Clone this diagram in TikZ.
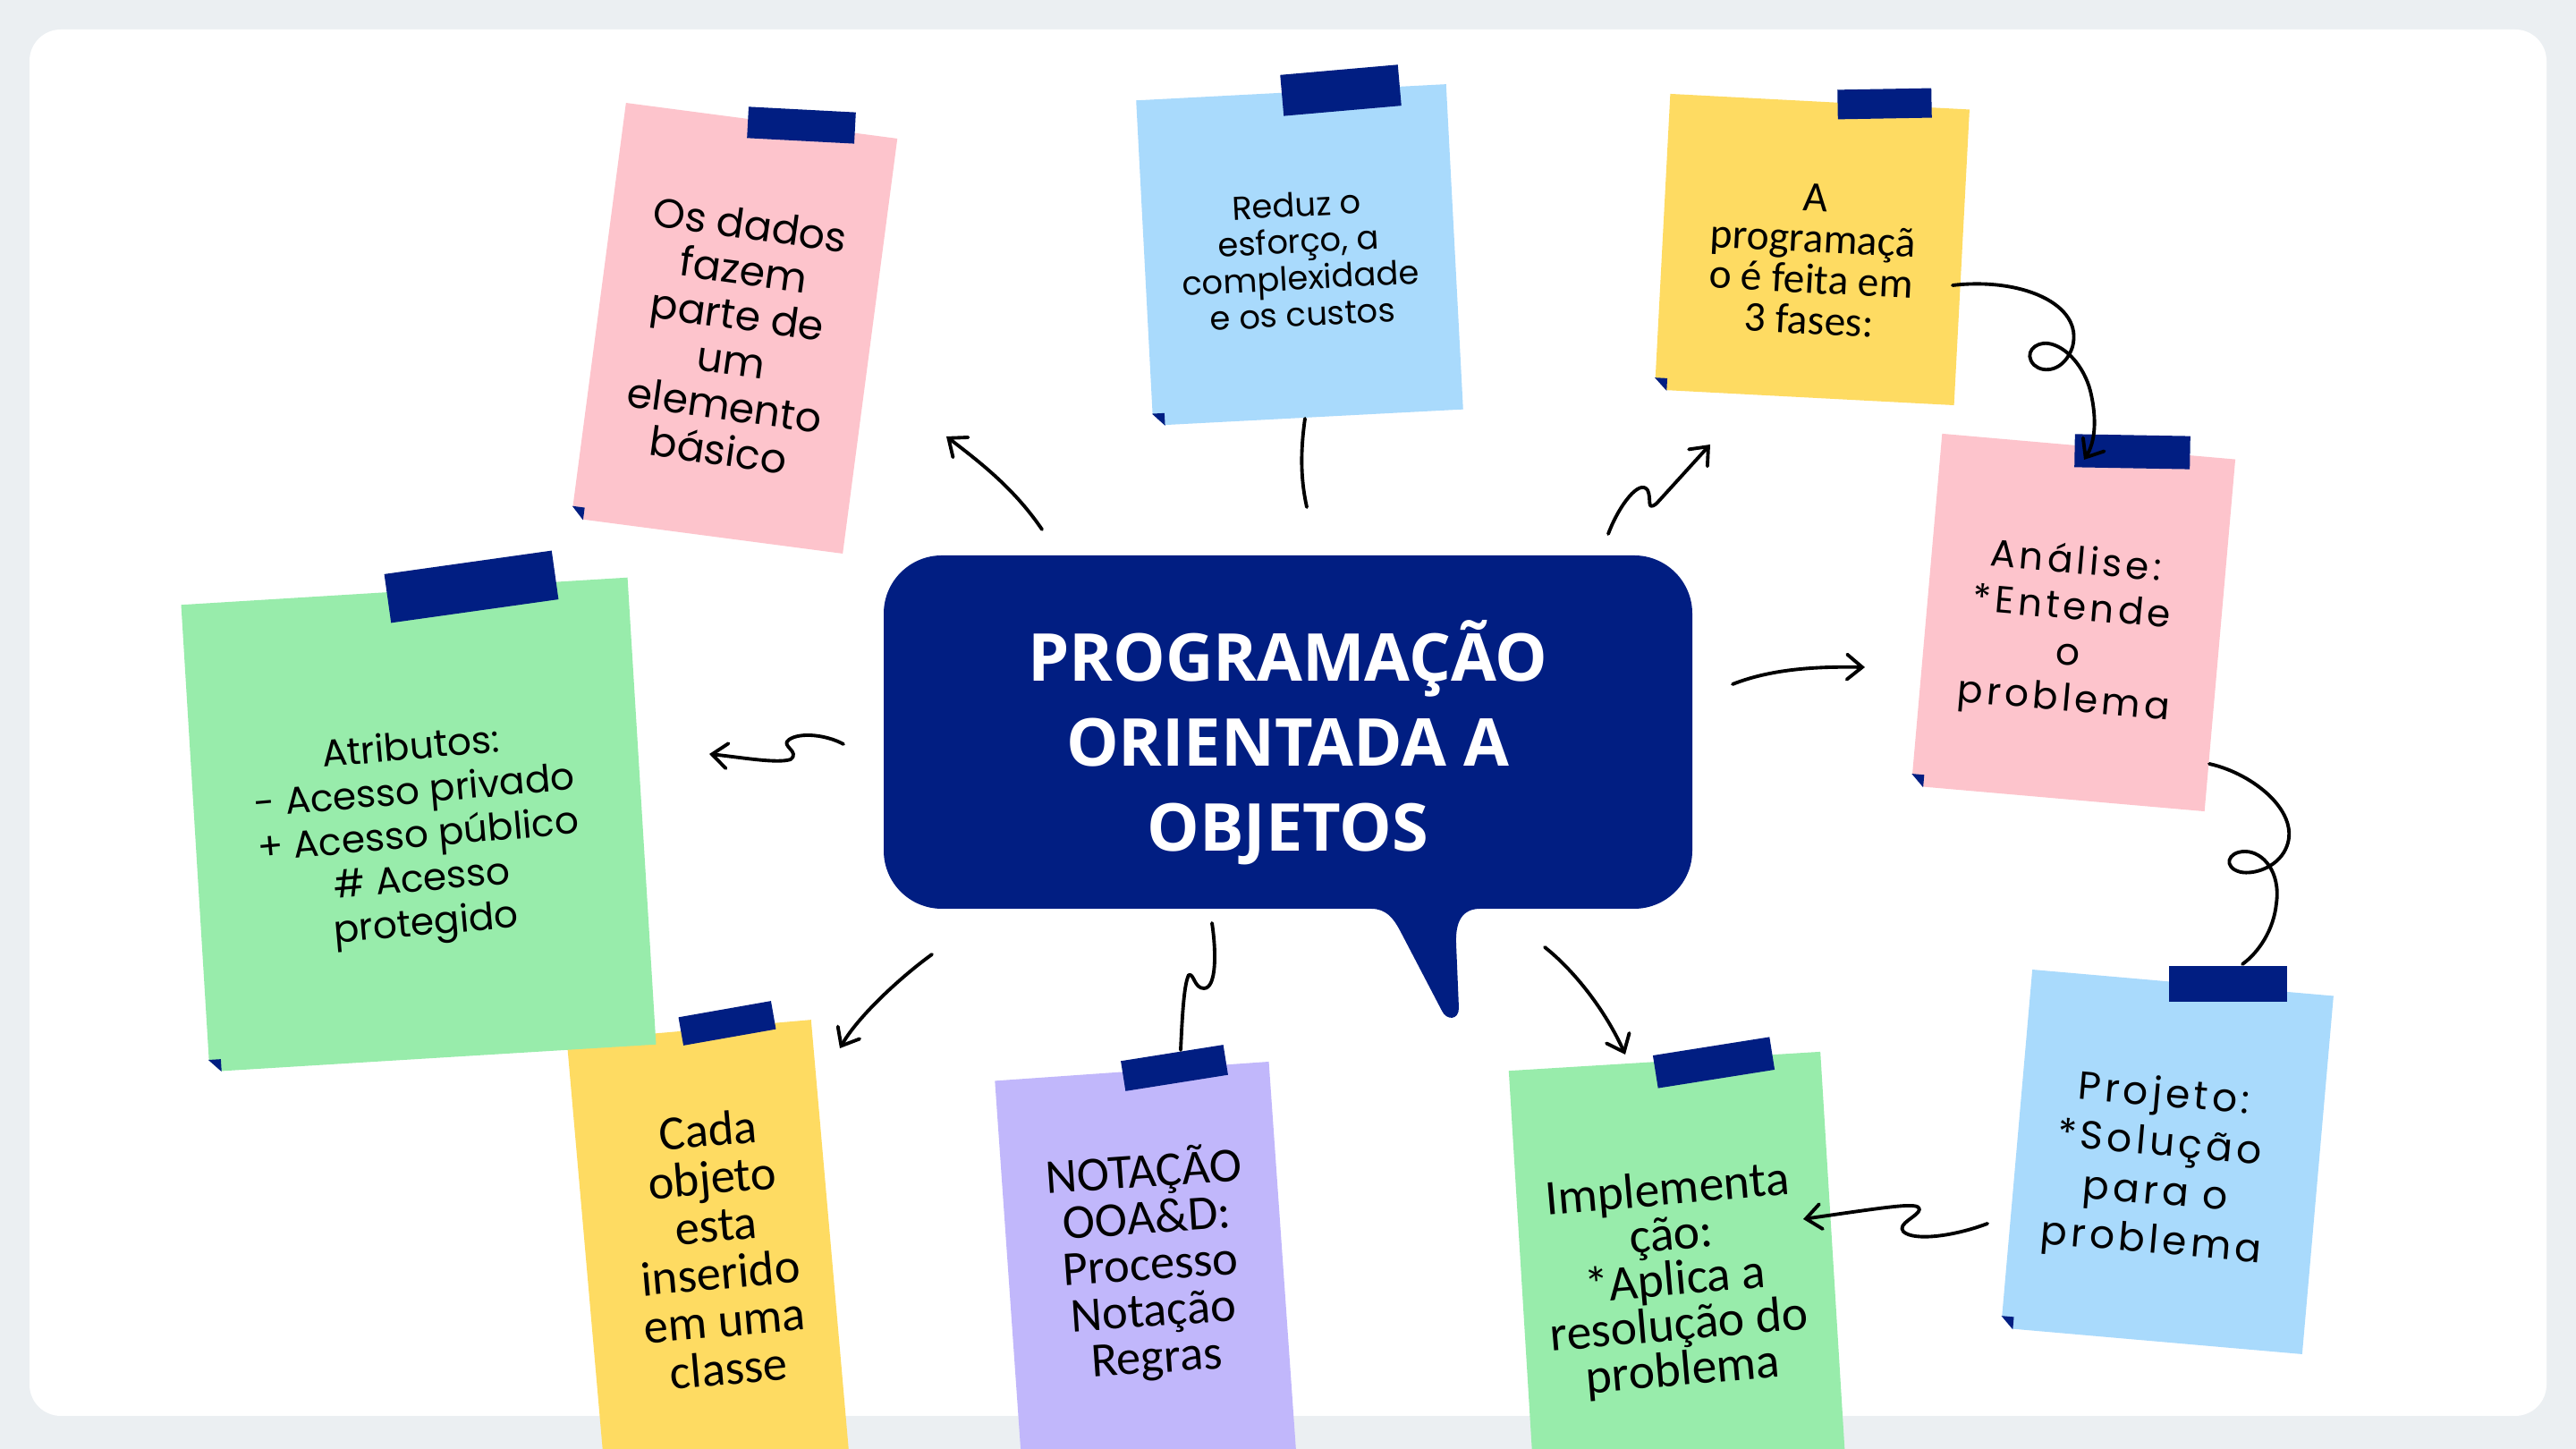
\documentclass[tikz,border=0pt]{standalone}
\usepackage{fontspec}
\usepackage{tikz}
\usetikzlibrary{calc,arrows.meta}
\newfontfamily\geofont{Poppins}
\newfontfamily\widefont{Poppins}[LetterSpace=10]
\newfontfamily\narrowfont{Carlito}
\newfontfamily\titlefont{Open Sans}
\definecolor{navy}{RGB}{1,30,130}
\definecolor{bggray}{RGB}{235,239,242}
\definecolor{notepink}{RGB}{253,196,204}
\definecolor{noteblue}{RGB}{169,218,252}
\definecolor{noteyellow}{RGB}{254,219,98}
\definecolor{notegreen}{RGB}{152,236,171}
\definecolor{notepurple}{RGB}{193,183,251}
\def\sz#1#2{\fontsize{#1}{#2}\selectfont}
\def\stickynote[#1](#2)(#3:#4:#5)#6% Syntax: [colour] (centre) (angle:width:height) {name}
{ \node[note,fill=#1,rotate=#3,minimum width=#4cm,minimum height=#5cm] (#6) at (#2) {};
  \coordinate (#6-a) at ($(#6.south west)!0.14cm!(#6.north west)$);
  \coordinate (#6-b) at ($(#6.south west)!0.14cm!(#6.south east)$);
  \fill[white] (#6.south west) -- (#6-a) -- (#6-b) -- cycle;
  \fill[navy] (#6-a) -- ($(#6-a)+(#6-b)-(#6.south west)$) -- (#6-b) -- cycle; }
\def\tape(#1)(#2:#3:#4)#5% Syntax: (centre) (angle:width:height) {name}
{ \node[tapebox,rotate=#2,minimum width=#3cm,minimum height=#4cm] (#5) at (#1) {}; }
\tikzset{
	note/.style={rectangle,inner sep=0pt,draw=none},
	tapebox/.style={rectangle,inner sep=0pt,fill=navy},
	notetext/.style={align=center,inner sep=0pt,text=black},
	curl/.style={line width=1.1pt,line cap=round,line join=round},
	curlarrow/.style={curl,-{Straight Barb[length=1.7mm,width=2.8mm,line cap=round]}}
}

\begin{document}
\begin{tikzpicture}
	\useasboundingbox (0,0) rectangle (28.8,16.2);
	\clip (0,0) rectangle (28.8,16.2);
	\fill[bggray] (0,0) rectangle (28.8,16.2);						%page
	\fill[white,rounded corners=0.35cm] (0.33,0.37) rectangle (28.47,15.87);	%panel
	
	\stickynote[notepink](8.21,12.53)(-7.5:3.06:4.68){dados}			%top left
	\tape(8.96,14.80)(-3:1.20:0.35){dados-tape}
	\stickynote[noteblue](14.53,13.35)(3:3.47:3.64){reduz}			%top middle
	\tape(14.99,15.19)(5:1.32:0.46){reduz-tape}
	\stickynote[noteyellow](20.26,13.41)(-3:3.35:3.31){fases}		%top right
	\tape(21.07,15.04)(1:1.05:0.33){fases-tape}
	\stickynote[notepink](23.18,9.24)(-5:3.29:3.95){analise}		%phase 1
	\tape(23.84,11.15)(-1:1.29:0.37){analise-tape}
	\stickynote[noteblue](24.23,3.21)(-5:3.38:4.02){projeto}		%phase 2
	\tape(24.91,5.20)(0:1.32:0.40){projeto-tape}
	\stickynote[noteyellow](7.96,1.74)(5:2.74:5.90){classe}			%bottom left
	\tape(8.13,4.76)(10:1.05:0.32){classe-tape}
	\stickynote[notegreen](4.68,6.98)(3.5:5.00:5.23){atributos}		%left
	\tape(5.27,9.64)(8:1.89:0.55){atributos-tape}
	\stickynote[notepurple](12.86,1.28)(4:3.07:5.90){notacao}		%bottom middle
	\tape(13.13,4.26)(9:1.16:0.34){notacao-tape}
	\stickynote[notegreen](18.79,1.39)(3.5:3.49:5.90){implem}		%phase 3
	\tape(19.16,4.32)(9:1.32:0.37){implem-tape}
	
	\node[notetext,rotate=-8,font=\geofont\sz{13}{14.5}] (dados-txt) at (8.21,12.43) {Os dados\\fazem\\parte de\\um\\elemento\\básico};
	\node[notetext,rotate=3,font=\geofont\sz{10.5}{11.6}] (reduz-txt) at (14.53,13.30) {Reduz o\\esforço, a\\complexidade\\e os custos};
	\node[notetext,rotate=-3,font=\narrowfont\sz{13.5}{13}] (fases-txt) at (20.26,13.30) {A\\programaçã\\o é feita em\\3 fases:};
	\node[notetext,rotate=-5,font=\widefont\sz{12}{14.6}] (analise-txt) at (23.14,9.13) {Análise:\\*Entende\\o\\problema};
	\node[notetext,rotate=-5,font=\widefont\sz{12.5}{15.6}] (projeto-txt) at (24.12,3.12) {Projeto:\\*Solução\\para o\\problema};
	\node[notetext,rotate=5,font=\geofont\sz{12}{14}] (atributos-txt) at (4.68,6.83) {Atributos:\\- Acesso privado\\+ Acesso público\\\# Acesso\\protegido};
	\node[notetext,rotate=5,font=\narrowfont\sz{15.5}{15.2}] (classe-txt) at (8.03,2.24) {Cada\\objeto\\esta\\inserido\\em uma\\classe};
	\node[notetext,rotate=4,font=\narrowfont\sz{15.5}{14.8}] (notacao-txt) at (12.86,2.06) {NOTAÇÃO\\OOA\&D:\\Processo\\Notação\\Regras};
	\node[notetext,rotate=5,font=\narrowfont\sz{15.8}{14.4}] (implem-txt) at (18.73,1.87) {Implementa\\ção:\\*Aplica a\\resolução do\\problema};
	
	\node[fill=navy,rounded corners=0.65cm,minimum width=9.04cm,minimum height=3.95cm] (poo) at (14.40,8.015) {};	%speech bubble
	\fill[navy] (15.1,6.04) -- (15.33,6.04) .. controls (15.5,6.04) and (15.58,5.93) .. (15.65,5.80) -- (16.12,4.90) .. controls (16.17,4.79) and (16.31,4.79) .. (16.31,4.93) -- (16.28,5.65) .. controls (16.27,5.90) and (16.35,6.04) .. (16.55,6.04) -- (16.8,6.04) -- (16.8,6.3) -- (15.1,6.3) -- cycle;	%tail
	\node[text=white,align=center,font=\titlefont\bfseries\sz{21}{27}] (poo-txt) at (14.40,7.90) {PROGRAMAÇÃO\\ORIENTADA A\\OBJETOS};
	
	\coordinate (c1a) at (11.65,10.28);	\coordinate (c1b) at (10.58,11.32);
	\coordinate (c2a) at (14.59,11.52);	\coordinate (c2b) at (14.61,10.53);
	\coordinate (c3a) at (17.98,10.23);	\coordinate (c3b) at (19.12,11.23);
	\coordinate (c4a) at (21.83,13.01);	\coordinate (c4b) at (23.30,11.06);
	\coordinate (c5a) at (19.37,8.55);	\coordinate (c5b) at (20.85,8.74);
	\coordinate (c6a) at (24.70,7.66);	\coordinate (c6b) at (25.07,5.42);
	\coordinate (c7a) at (22.22,2.52);	\coordinate (c7b) at (20.16,2.57);
	\coordinate (c8a) at (17.27,5.61);	\coordinate (c8b) at (18.17,4.41);
	\coordinate (c9a) at (13.55,5.88);	\coordinate (c9b) at (13.20,4.46);
	\coordinate (c10a) at (10.42,5.53);	\coordinate (c10b) at (9.39,4.48);
	\coordinate (c11a) at (9.43,7.88);	\coordinate (c11b) at (7.93,7.77);
	
	\draw[curlarrow] (c1a) .. controls (11.35,10.72) and (11.0,11.0) .. (c1b);		%to dados
	\draw[curl] (c2a) .. controls (14.53,11.1) and (14.55,10.8) .. (c2b);			%from reduz
	\draw[curlarrow] (c3a) .. controls (18.1,10.55) and (18.33,10.85) .. (18.42,10.72) .. controls (18.47,10.62) and (18.4,10.48) .. (18.52,10.57) -- (c3b);	%to fases
	\draw[curlarrow] (c4a) .. controls (22.6,13.1) and (23.3,12.8) .. (23.17,12.32) .. controls (23.08,12.05) and (22.85,12.02) .. (22.74,12.12) .. controls (22.62,12.25) and (22.75,12.38) .. (22.9,12.36) .. controls (23.1,12.33) and (23.3,12.1) .. (23.37,11.83) .. controls (23.45,11.5) and (23.42,11.25) .. (c4b);	%fases to analise
	\draw[curlarrow] (c5a) .. controls (19.8,8.72) and (20.3,8.75) .. (c5b);		%to analise
	\draw[curl] (c6a) .. controls (25.2,7.55) and (25.75,7.1) .. (25.55,6.70) .. controls (25.45,6.5) and (25.2,6.42) .. (25.05,6.45) .. controls (24.85,6.5) and (24.9,6.68) .. (25.1,6.68) .. controls (25.3,6.68) and (25.5,6.45) .. (25.45,6.10) .. controls (25.42,5.8) and (25.25,5.55) .. (c6b);	%analise to projeto
	\draw[curlarrow] (c7a) .. controls (21.85,2.38) and (21.4,2.32) .. (21.28,2.43) .. controls (21.2,2.52) and (21.45,2.6) .. (21.46,2.68) .. controls (21.45,2.76) and (21.2,2.72) .. (c7b);	%projeto to implem
	\draw[curlarrow] (c8a) .. controls (17.6,5.35) and (17.95,4.9) .. (c8b);		%to implem
	\draw[curl] (c9a) .. controls (13.6,5.55) and (13.6,5.15) .. (13.46,5.15) .. controls (13.35,5.15) and (13.35,5.32) .. (13.29,5.30) .. controls (13.24,5.2) and (13.22,4.9) .. (c9b);	%to notacao
	\draw[curlarrow] (c10a) .. controls (10.1,5.3) and (9.6,4.85) .. (c10b);		%to classe
	\draw[curlarrow] (c11a) .. controls (9.25,7.98) and (8.95,8.02) .. (8.82,7.93) .. controls (8.72,7.86) and (8.95,7.80) .. (8.84,7.71) .. controls (8.7,7.66) and (8.3,7.73) .. (c11b);	%to atributos
\end{tikzpicture}
\end{document}
